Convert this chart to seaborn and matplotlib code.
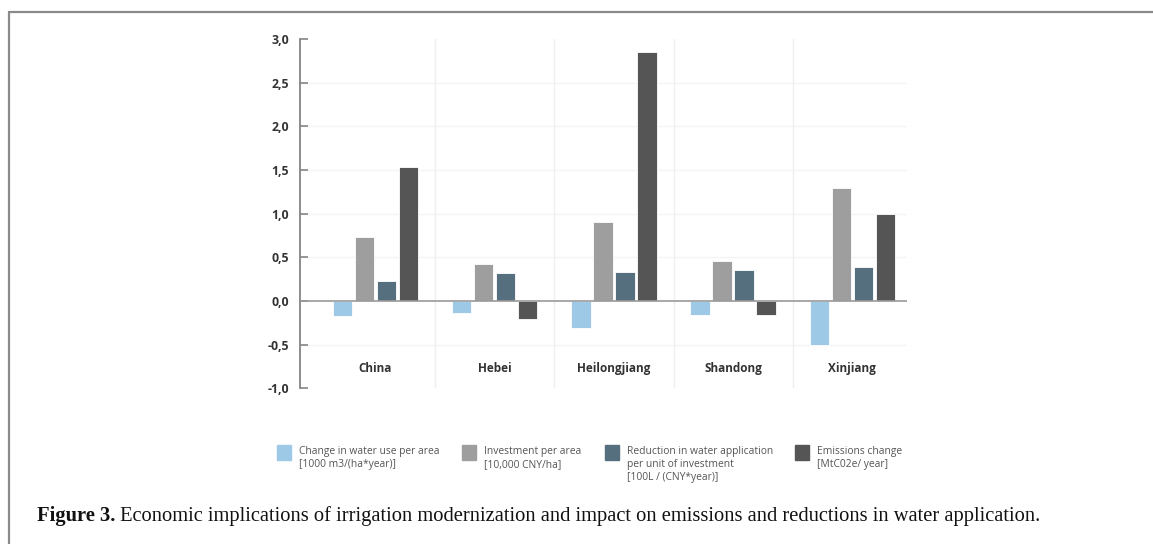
import numpy as np
import pandas as pd
import matplotlib
matplotlib.use("Agg")
import matplotlib.pyplot as plt
from matplotlib.patches import Rectangle
from matplotlib.lines import Line2D
import seaborn as sns

# Data
regions = ["China", "Hebei", "Heilongjiang", "Shandong", "Xinjiang"]
series = [
    "Change in water use per area\n[1000 m3/(ha*year)]",
    "Investment per area\n[10,000 CNY/ha]",
    "Reduction in water application\nper unit of investment\n[100L / (CNY*year)]",
    "Emissions change\n[MtC02e/ year]",
]
water_use_change = [-0.17, -0.14, -0.31, -0.16, -0.50]
investment = [0.73, 0.42, 0.91, 0.46, 1.29]
reduction_per_invest = [0.23, 0.32, 0.33, 0.36, 0.39]
emissions_change = [1.54, -0.21, 2.85, -0.16, 1.00]
colors = ["#9dc8e6", "#9e9e9e", "#566f7e", "#555555"]

y_ticks = [-1.0, -0.5, 0.0, 0.5, 1.0, 1.5, 2.0, 2.5, 3.0]
y_tick_labels = ["-1,0", "-0,5", "0,0", "0,5", "1,0", "1,5", "2,0", "2,5", "3,0"]

caption_bold = "Figure 3."
caption_rest = (" Economic implications of irrigation modernization and impact "
                "on emissions and reductions in water application.")

rows = []
for s, vals in zip(series, [water_use_change, investment, reduction_per_invest, emissions_change]):
    for r, v in zip(regions, vals):
        rows.append({"region": r, "series": s, "value": v})
df = pd.DataFrame(rows)

sns.set_style("white")
plt.rcParams["font.family"] = ["Open Sans", "DejaVu Sans"]

fig = plt.figure(figsize=(11.53, 5.44), dpi=100)
ax = fig.add_axes([0.2602, 0.2862, 0.5264, 0.6421])

sns.barplot(data=df, x="region", y="value", hue="series", order=regions,
            hue_order=series, palette=colors, width=0.738, gap=0.12,
            saturation=1, legend=False, ax=ax, edgecolor="white", linewidth=0.6)

ax.set_xlim(-0.631, 4.457)
ax.set_ylim(-1.0, 3.0)
ax.set_xlabel("")
ax.set_ylabel("")

# faint grid
for y in y_ticks[1:-1]:
    if y != 0:
        ax.axhline(y, color="#f4f4f4", lw=1, zorder=0)
for x in np.arange(len(regions) - 1) + 0.5:
    ax.axvline(x, color="#efefef", lw=1, zorder=0)
ax.axhline(0, color="#9a9a9a", lw=1.2, zorder=3)

for side in ["top", "right", "bottom"]:
    ax.spines[side].set_visible(False)
ax.spines["left"].set_color("#858585")
ax.spines["left"].set_linewidth(1.3)

ax.set_yticks(y_ticks)
ax.set_yticklabels(y_tick_labels, fontsize=8.8, fontweight="bold", color="#333333")
ax.tick_params(axis="y", left=True, direction="in", length=6, width=1.2,
               color="#858585", pad=8)
ax.set_xticks([])

# category labels inside the plot
for i, r in enumerate(regions):
    ax.text(i, -0.77, r, ha="center", va="center", fontsize=8.5,
            fontweight="bold", color="#333333")

# legend drawn manually
leg_x = [277, 462, 605, 795]
W, H = 1153, 544
for x0, s, c in zip(leg_x, series, colors):
    fig.add_artist(Rectangle((x0 / W, 1 - 460 / H), 14 / W, 15 / H,
                             transform=fig.transFigure, color=c))
    fig.text((x0 + 22) / W, 1 - 446 / H, s, ha="left", va="top",
             fontsize=7.4, color="#555555", linespacing=1.25)

# frame lines of the figure panel
fig.add_artist(Line2D([8.5 / W, 1], [1 - 12 / H, 1 - 12 / H],
                      transform=fig.transFigure, color="#8a8a8a", lw=1.6))
fig.add_artist(Line2D([8.5 / W, 8.5 / W], [0, 1 - 12 / H],
                      transform=fig.transFigure, color="#8a8a8a", lw=1.6))

# caption
t1 = fig.text(37 / W, 1 - 516 / H, caption_bold, ha="left", va="center",
              fontsize=14.75, fontweight="bold", family="Liberation Serif", color="#111111")
fig.canvas.draw()
bb = t1.get_window_extent(renderer=fig.canvas.get_renderer())
fig.text(bb.x1 / W, 1 - 516 / H, caption_rest, ha="left", va="center",
         fontsize=14.75, family="Liberation Serif", color="#111111")

fig.savefig("out.png", dpi=100)
